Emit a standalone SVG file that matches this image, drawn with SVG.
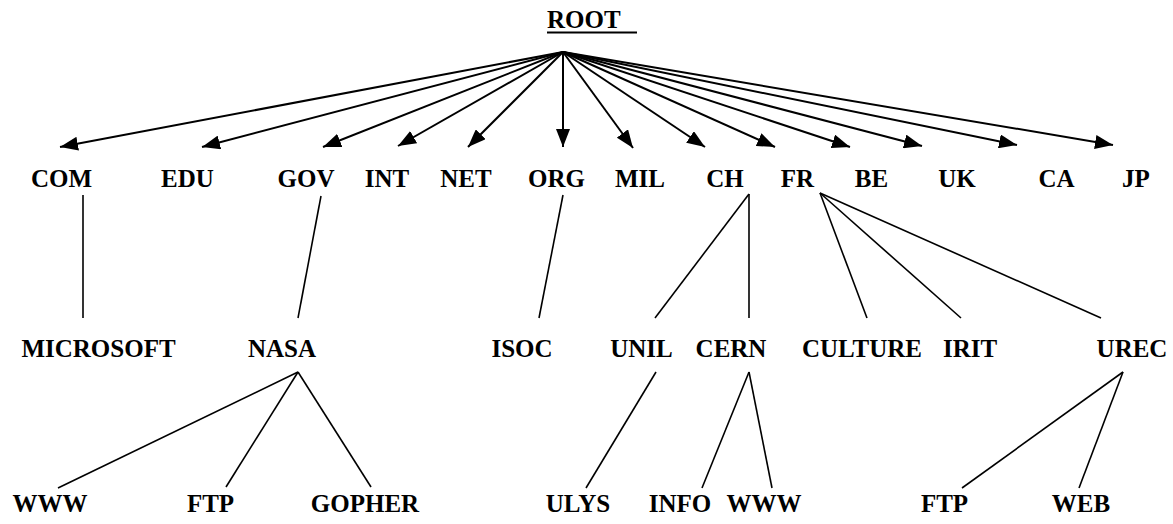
<svg xmlns="http://www.w3.org/2000/svg" width="1173" height="524" viewBox="0 0 1173 524">
<style>
.t text{font-weight:bold;font-size:25px;fill:#000;text-anchor:middle}
.arr{stroke:#000;stroke-width:2;fill:none;marker-end:url(#ah)}
.ln{stroke:#000;stroke-width:1.6;fill:none}
</style>
<defs>
<marker id="ah" markerUnits="userSpaceOnUse" markerWidth="18" markerHeight="14" refX="18" refY="7" orient="auto">
<path d="M0,0 L18,7 L0,14 z" fill="#000"/>
</marker>
</defs>
<rect width="1173" height="524" fill="#fff"/>
<g id="connectors">
<line class="arr" x1="563" y1="52" x2="60" y2="147"/>
<line class="arr" x1="563" y1="52" x2="202" y2="147"/>
<line class="arr" x1="563" y1="52" x2="323" y2="147"/>
<line class="arr" x1="563" y1="52" x2="398" y2="146"/>
<line class="arr" x1="563" y1="52" x2="468" y2="147"/>
<line class="arr" x1="563" y1="52" x2="563" y2="147"/>
<line class="arr" x1="563" y1="52" x2="633" y2="148"/>
<line class="arr" x1="563" y1="52" x2="705" y2="147"/>
<line class="arr" x1="563" y1="52" x2="775" y2="147"/>
<line class="arr" x1="563" y1="52" x2="850" y2="147"/>
<line class="arr" x1="563" y1="52" x2="922" y2="146"/>
<line class="arr" x1="563" y1="52" x2="1017" y2="145"/>
<line class="arr" x1="563" y1="52" x2="1113" y2="145"/>
<line class="ln" x1="83" y1="195" x2="83" y2="318"/>
<line class="ln" x1="321" y1="196" x2="298" y2="318"/>
<line class="ln" x1="563" y1="195" x2="539" y2="318"/>
<line class="ln" x1="749" y1="194" x2="655" y2="318"/>
<line class="ln" x1="749" y1="194" x2="749" y2="318"/>
<line class="ln" x1="820" y1="193" x2="867" y2="318"/>
<line class="ln" x1="820" y1="193" x2="961" y2="318"/>
<line class="ln" x1="820" y1="193" x2="1101" y2="318"/>
<line class="ln" x1="298" y1="372" x2="58" y2="488"/>
<line class="ln" x1="298" y1="372" x2="226" y2="487"/>
<line class="ln" x1="298" y1="372" x2="371" y2="487"/>
<line class="ln" x1="656" y1="372" x2="586" y2="488"/>
<line class="ln" x1="749" y1="372" x2="702" y2="488"/>
<line class="ln" x1="749" y1="372" x2="772" y2="488"/>
<line class="ln" x1="1123" y1="372" x2="962" y2="488"/>
<line class="ln" x1="1123" y1="372" x2="1079" y2="488"/>
</g>
<g class="t" font-family="'Liberation Serif', 'Times New Roman', 'DejaVu Serif', serif">
<g id="root"><text x="547" y="28" style="text-anchor:start">ROOT</text><line x1="547" y1="32.5" x2="637" y2="32.5" stroke="#000" stroke-width="2"/></g>
<g id="com"><text x="61.5" y="187">COM</text></g>
<g id="edu"><text x="187.5" y="187">EDU</text></g>
<g id="gov"><text x="306" y="187">GOV</text></g>
<g id="int"><text x="387" y="187">INT</text></g>
<g id="net"><text x="466" y="187">NET</text></g>
<g id="org"><text x="556.5" y="187">ORG</text></g>
<g id="mil"><text x="640" y="187">MIL</text></g>
<g id="ch"><text x="725" y="187">CH</text></g>
<g id="fr"><text x="797.5" y="187">FR</text></g>
<g id="be"><text x="871.5" y="187">BE</text></g>
<g id="uk"><text x="957" y="187">UK</text></g>
<g id="ca"><text x="1056.5" y="187">CA</text></g>
<g id="jp"><text x="1136" y="187">JP</text></g>
<g id="microsoft"><text x="98.5" y="357">MICROSOFT</text></g>
<g id="nasa"><text x="282" y="357">NASA</text></g>
<g id="isoc"><text x="522" y="357">ISOC</text></g>
<g id="unil"><text x="641.5" y="357">UNIL</text></g>
<g id="cern"><text x="731" y="357">CERN</text></g>
<g id="culture"><text x="862" y="357">CULTURE</text></g>
<g id="irit"><text x="970" y="357">IRIT</text></g>
<g id="urec"><text x="1132" y="357">UREC</text></g>
<g id="nasa-www"><text x="50" y="512">WWW</text></g>
<g id="nasa-ftp"><text x="210.5" y="512">FTP</text></g>
<g id="nasa-gopher"><text x="365" y="512">GOPHER</text></g>
<g id="ulys"><text x="578" y="512">ULYS</text></g>
<g id="info"><text x="680" y="512">INFO</text></g>
<g id="cern-www"><text x="764" y="512">WWW</text></g>
<g id="urec-ftp"><text x="944.5" y="512">FTP</text></g>
<g id="web"><text x="1081" y="512">WEB</text></g>
</g>
</svg>
